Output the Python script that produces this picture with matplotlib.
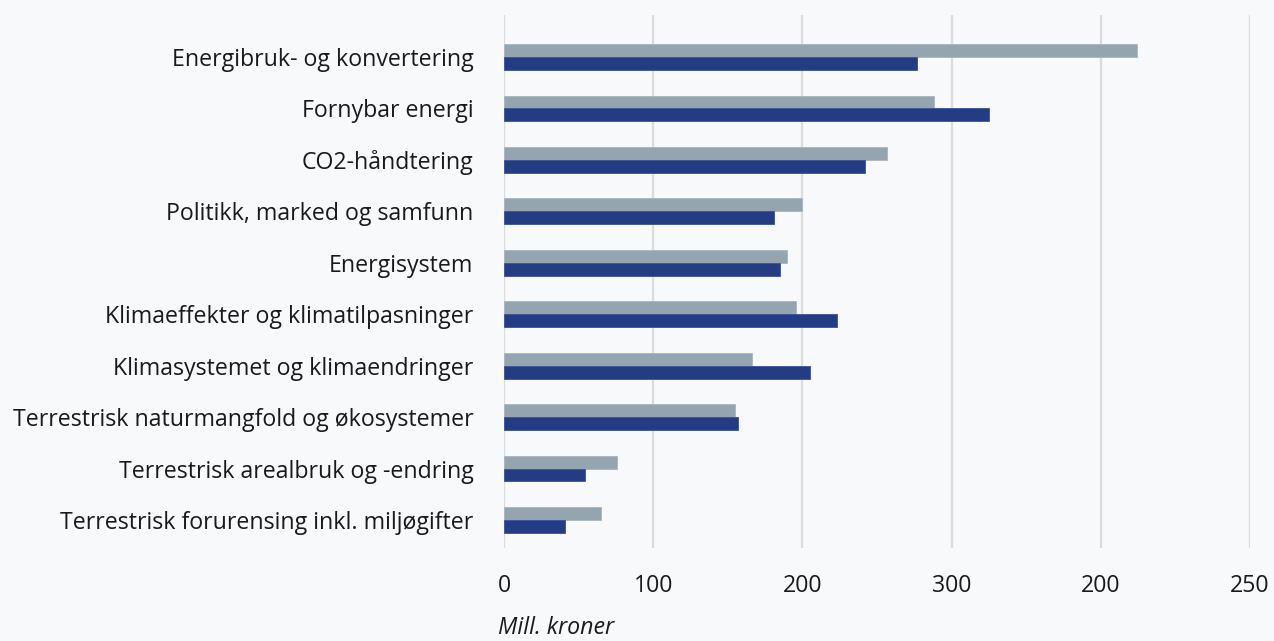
import matplotlib
matplotlib.use("Agg")
import matplotlib.pyplot as plt
import numpy as np

categories = [
    "Energibruk- og konvertering",
    "Fornybar energi",
    "CO2-håndtering",
    "Politikk, marked og samfunn",
    "Energisystem",
    "Klimaeffekter og klimatilpasninger",
    "Klimasystemet og klimaendringer",
    "Terrestrisk naturmangfold og økosystemer",
    "Terrestrisk arealbruk og -endring",
    "Terrestrisk forurensing inkl. miljøgifter",
]
series_gray = [424, 288, 257, 200, 190, 196, 166, 155, 76, 65]
series_blue = [277, 325, 242, 181, 185, 223, 205, 157, 54, 41]
tick_values = [0, 100, 200, 300, 400, 500]
tick_labels = ["0", "100", "200", "300", "200", "250"]
xlabel = "Mill. kroner"

BG = "#F7F9FB"
GRAY = "#94A5B0"
BLUE = "#233C83"
GRID = "#DADCDE"

W, H = 1274, 641
fig = plt.figure(figsize=(W / 100, H / 100), dpi=100, facecolor=BG)
ax_left, ax_right = 504, 1250
ax_top, ax_bot = 15, 548
ax = fig.add_axes([ax_left / W, 1 - ax_bot / H, (ax_right - ax_left) / W, (ax_bot - ax_top) / H])
ax.set_facecolor(BG)

y = np.arange(len(categories))
h = 0.25
ax.barh(y - h / 2, series_gray, height=h, color=GRAY, edgecolor="#A9B6BF", linewidth=0.6, zorder=3)
ax.barh(y + h / 2, series_blue, height=h, color=BLUE, edgecolor="#3A5196", linewidth=0.6, zorder=3)

ax.set_xlim(0, 500)
ax.set_ylim(9.545, -0.817)
ax.set_xticks(tick_values)
ax.set_xticklabels(tick_labels)
ax.set_yticks(y)
ax.set_yticklabels(categories)
for s in ax.spines.values():
    s.set_visible(False)
ax.grid(axis="x", color=GRID, linewidth=1.6, zorder=0)
ax.tick_params(axis="both", length=0, labelsize=16.7, colors="#1a1a1a")
ax.tick_params(axis="x", pad=19)
ax.tick_params(axis="y", pad=22)
for lab in ax.get_yticklabels() + ax.get_xticklabels():
    lab.set_fontfamily("Open Sans")

fig.text(498 / W, 1 - 628 / H, xlabel, fontsize=16.7, style="italic",
         family="Open Sans", color="#1a1a1a", ha="left", va="center")

fig.savefig("out.png", dpi=100, facecolor=BG)
